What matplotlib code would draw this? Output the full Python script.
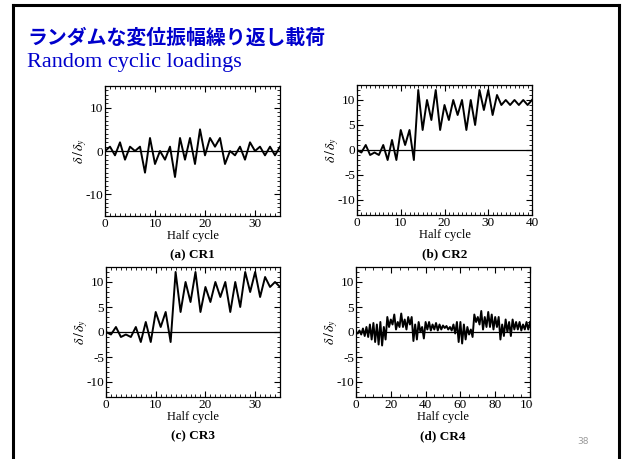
import numpy as np
import matplotlib
matplotlib.use("Agg")
import matplotlib.pyplot as plt
from matplotlib.lines import Line2D
from matplotlib.ticker import MultipleLocator
from matplotlib.transforms import Bbox

plt.rcParams['font.family'] = ['Liberation Serif', 'DejaVu Serif']
plt.rcParams['mathtext.fontset'] = 'stix'
plt.rcParams['axes.unicode_minus'] = False

W, H = 622, 459

# half-cycle displacement histories (delta / delta_y)
cr1 = [0, 1, -1, 2, -2, 1, 0, 1, -5, 3, -3, 0, -2, 1, -6, 3, -2, 3, -3, 5,
       -1, 3, 1, 3, -3, 0, -1, 1, -2, 2, 0, 1, -1, 1, -1, 1]
cr2 = [0, -0.5, 1, -1, -0.5, -1, 1, -2, 2, -2, 4, 1, 4, -2, 12, 4, 10, 6, 12, 4,
       9, 6, 10, 7, 10, 4, 10, 5, 12, 8, 12, 7, 11, 9, 10, 9, 10, 9, 10, 9, 10]
cr3 = [0, -0.5, 1, -1, -0.5, -1, 1, -2, 2, -2, 4, 1, 4, -2, 12, 4, 10, 6, 12, 4,
       9, 6, 10, 7, 10, 4, 10, 5, 12, 8, 12, 7, 11, 9, 10, 9]
cr4 = [0, -0.3, 0.3, -0.5, 0.7, -0.8, 1, -1, 1.5, -1.5, 1.8, -2, 1.5, -2.5, 2, -2.7,
       1, -1.5, 3, 1, 2.5, 1.5, 3.5, 0.5, 2, 1, 3.7, 1, 2.5, 0.5, 3, 1.5, 3, -1.8,
       1.5, -1.5, 2, 0, 1, -1.3, 2, 0.5, 2, 0.3, 1.5, 0.5, 1.8, 0.3, 1.5, 0.5, 1.3,
       0.8, 1.2, 0.5, 1, 0.3, 1.5, -0.3, 2, -2, 2, -2.3, 1.5, -1.5, 1, -0.5, 0.5, -1,
       3.5, 2, 3, 1.5, 4.2, 0.5, 3, 1, 4, 1, 3.5, 0.5, 3, 1, 3, -1.5, 1.5, -0.8, 2.5,
       0, 2, -0.8, 2.5, 0.5, 2, 0.5, 2, 0.3, 1.5, 0.5, 2, 0.5, 2]

series = [cr1, cr2, cr3, cr4]
captions = ["(a) CR1", "(b) CR2", "(c) CR3", "(d) CR4"]
xlims = [35, 40, 35, 100]
ylims = [15, 13, 13, 13]
ymajor = [10, 5, 5, 5]
xmajor = [10, 10, 10, 20]
xminor = [1, 1, 1, 5]

# axes boxes in pixels: left, top, right, bottom
boxes = [(105, 86, 280, 216), (357, 85, 532, 215),
         (106, 267, 280, 397), (356, 267, 530, 397)]


def fx(x):
    return x / W


def fy(y):
    return 1 - y / H


fig = plt.figure(figsize=(W / 100, H / 100), dpi=100)
fig.patch.set_facecolor('white')

# slide frame
frame_kw = dict(color='black', lw=2.2, solid_capstyle='projecting')
fig.add_artist(Line2D([fx(12.5), fx(12.5)], [fy(4.5), 0], **frame_kw))
fig.add_artist(Line2D([fx(12.5), fx(619)], [fy(4.5), fy(4.5)], **frame_kw))
fig.add_artist(Line2D([fx(619), fx(619)], [fy(4.5), 0], **frame_kw))

fig.text(fx(27), fy(37), "ランダムな変位振幅繰り返し載荷", color='#0000CC',
         fontsize=14.3, fontweight='bold', va='center', ha='left',
         family=['Noto Sans CJK JP', 'DejaVu Sans'])
fig.text(fx(27), fy(63), "Random cyclic loadings", color='#0000CC',
         fontsize=16, va='center', ha='left')
fig.text(fx(583), fy(442), "38", color='#999999', fontsize=6.5,
         va='center', ha='center', family=['DejaVu Sans'])

axes = []
for i, vals in enumerate(series):
    l, t, r, b = boxes[i]
    ax = fig.add_axes([fx(l), fy(b), fx(r) - fx(l), fy(t) - fy(b)])
    x = np.arange(len(vals))
    ax.axhline(0, color='black', lw=0.9, zorder=1)
    ax.plot(x, vals, color='black', lw=1.4, zorder=2)
    ax.set_xlim(0, xlims[i])
    ax.set_ylim(-ylims[i], ylims[i])
    ax.xaxis.set_major_locator(MultipleLocator(xmajor[i]))
    ax.xaxis.set_minor_locator(MultipleLocator(xminor[i]))
    ax.yaxis.set_major_locator(MultipleLocator(ymajor[i]))
    ax.yaxis.set_minor_locator(MultipleLocator(1))
    ax.tick_params(which='both', direction='in', top=True, right=True,
                   labelsize=9.5, pad=1.5)
    ax.tick_params(which='major', length=4, width=0.8)
    ax.tick_params(which='minor', length=2, width=0.6)
    for s in ax.spines.values():
        s.set_linewidth(0.9)
    ax.set_xlabel("Half cycle", fontsize=9, labelpad=0)
    ax.set_ylabel(r"$\delta\,/\,\delta_y$", fontsize=10, labelpad=-3)
    ax.text(0.5, -0.30, captions[i], transform=ax.transAxes, ha='center',
            va='center', fontsize=9.5, fontweight='bold')
    axes.append(ax)

# the last x tick label of (d) runs past the picture edge
clip = Bbox([[0, 0], [533, H]])
for lbl in axes[3].get_xticklabels():
    lbl.set_clip_on(True)
    lbl.set_clip_box(clip)

fig.savefig("out.png", dpi=100)
